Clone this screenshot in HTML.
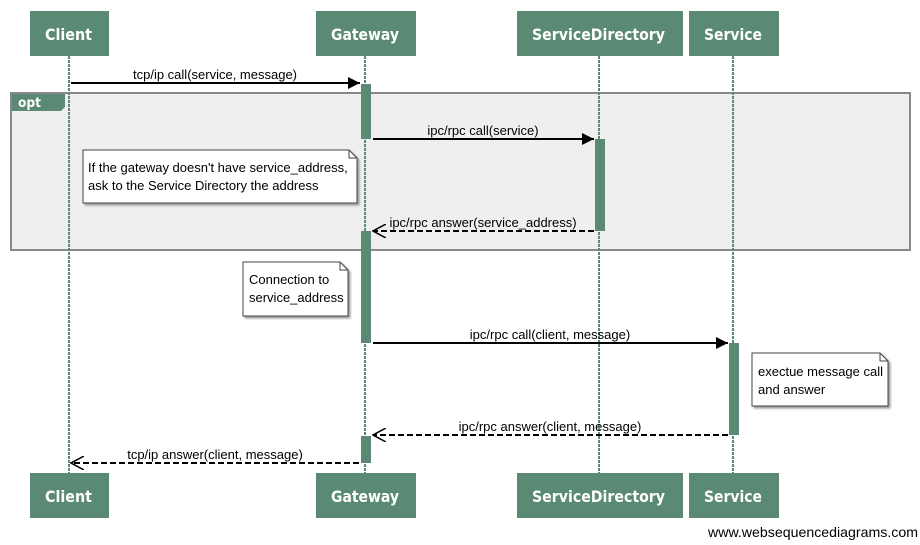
<!DOCTYPE html>
<html><head><style>
body{margin:0;background:#fff;}
svg text{font-family:"DejaVu Sans","Liberation Sans",sans-serif;}
.m{font-family:"Liberation Sans",sans-serif;font-size:13px;fill:#000;}
.h{font-size:16px;fill:#fff;font-weight:bold;}
</style></head><body>
<svg width="920" height="540" xmlns="http://www.w3.org/2000/svg">
<defs>
<marker id="fa" markerWidth="12" markerHeight="12" refX="12" refY="6" orient="auto" markerUnits="userSpaceOnUse"><path d="M0,0 L12,6 L0,12 z" fill="#000"/></marker>
<marker id="oa" markerWidth="14" markerHeight="14" refX="13" refY="7" orient="auto" markerUnits="userSpaceOnUse"><path d="M0,0 L13,7 L0,14" fill="none" stroke="#000" stroke-width="1.5"/></marker>
</defs>
<rect x="11" y="93" width="899" height="157" fill="#efefef" stroke="#888" stroke-width="2"/>
<path d="M12,94 H65 V107 L61,111 H12 z" fill="#5a8a74"/>
<text x="18" y="107" class="h" style="font-size:13px" textLength="23" lengthAdjust="spacingAndGlyphs">opt</text>
<g stroke="#5a8a74" stroke-width="2" stroke-dasharray="3,1">
<line x1="69" y1="56" x2="69" y2="473"/>
<line x1="365" y1="56" x2="365" y2="473"/>
<line x1="599" y1="56" x2="599" y2="473"/>
<line x1="733" y1="56" x2="733" y2="473"/>
</g>
<g fill="#5a8a74">
<rect x="30" y="11" width="79" height="45"/><rect x="316" y="11" width="100" height="45"/>
<rect x="517" y="11" width="166" height="45"/><rect x="689" y="11" width="90" height="45"/>
<rect x="30" y="473" width="79" height="45"/><rect x="316" y="473" width="100" height="45"/>
<rect x="517" y="473" width="166" height="45"/><rect x="689" y="473" width="90" height="45"/>
</g>
<g>
<text x="45" y="40" class="h" textLength="47" lengthAdjust="spacingAndGlyphs">Client</text>
<text x="331" y="40" class="h" textLength="68" lengthAdjust="spacingAndGlyphs">Gateway</text>
<text x="532" y="40" class="h" textLength="133" lengthAdjust="spacingAndGlyphs">ServiceDirectory</text>
<text x="704" y="40" class="h" textLength="58" lengthAdjust="spacingAndGlyphs">Service</text>
<text x="45" y="502" class="h" textLength="47" lengthAdjust="spacingAndGlyphs">Client</text>
<text x="331" y="502" class="h" textLength="68" lengthAdjust="spacingAndGlyphs">Gateway</text>
<text x="532" y="502" class="h" textLength="133" lengthAdjust="spacingAndGlyphs">ServiceDirectory</text>
<text x="704" y="502" class="h" textLength="58" lengthAdjust="spacingAndGlyphs">Service</text>
</g>
<g fill="#5a8a74">
<rect x="361" y="84" width="10" height="55"/><rect x="361" y="231" width="10" height="112"/>
<rect x="361" y="436" width="10" height="27"/><rect x="595" y="139" width="10" height="92"/>
<rect x="729" y="343" width="10" height="92"/>
</g>
<g stroke="#000" stroke-width="2" fill="none">
<line x1="71" y1="83" x2="360" y2="83" marker-end="url(#fa)"/>
<line x1="373" y1="139" x2="594" y2="139" marker-end="url(#fa)"/>
<line x1="594" y1="231" x2="373" y2="231" stroke-dasharray="6,3" marker-end="url(#oa)"/>
<line x1="373" y1="343" x2="728" y2="343" marker-end="url(#fa)"/>
<line x1="728" y1="435" x2="373" y2="435" stroke-dasharray="6,3" marker-end="url(#oa)"/>
<line x1="359" y1="463" x2="71" y2="463" stroke-dasharray="6,3" marker-end="url(#oa)"/>
</g>
<g class="m" text-anchor="middle">
<text x="215" y="79" class="m">tcp/ip call(service, message)</text>
<text x="483" y="135" class="m">ipc/rpc call(service)</text>
<text x="483" y="227" class="m">ipc/rpc answer(service_address)</text>
<text x="550" y="339" class="m">ipc/rpc call(client, message)</text>
<text x="550" y="431" class="m">ipc/rpc answer(client, message)</text>
<text x="215" y="459" class="m">tcp/ip answer(client, message)</text>
</g>
<g fill="#fff" stroke="#444" stroke-width="1">
<path d="M83,150 H349 L357,158 V203 H83 z" style="filter:drop-shadow(2px 2px 1px #999)"/>
<path d="M349,150 V158 H357" fill="none"/>
<path d="M243,262 H340 L348,270 V316 H243 z" style="filter:drop-shadow(2px 2px 1px #999)"/>
<path d="M340,262 V270 H348" fill="none"/>
<path d="M752,353 H880 L888,361 V406 H752 z" style="filter:drop-shadow(2px 2px 1px #999)"/>
<path d="M880,353 V361 H888" fill="none"/>
</g>
<g class="m">
<text x="88" y="172" class="m">If the gateway doesn't have service_address,</text>
<text x="88" y="190" class="m">ask to the Service Directory the address</text>
<text x="249" y="284" class="m">Connection to</text>
<text x="249" y="302" class="m">service_address</text>
<text x="758" y="376" class="m">exectue message call</text>
<text x="758" y="394" class="m">and answer</text>
</g>
<text x="918" y="537" text-anchor="end" textLength="210" lengthAdjust="spacingAndGlyphs" style="font-family:'Liberation Sans',sans-serif;font-size:14px;fill:#000">www.websequencediagrams.com</text>
</svg>
</body></html>
